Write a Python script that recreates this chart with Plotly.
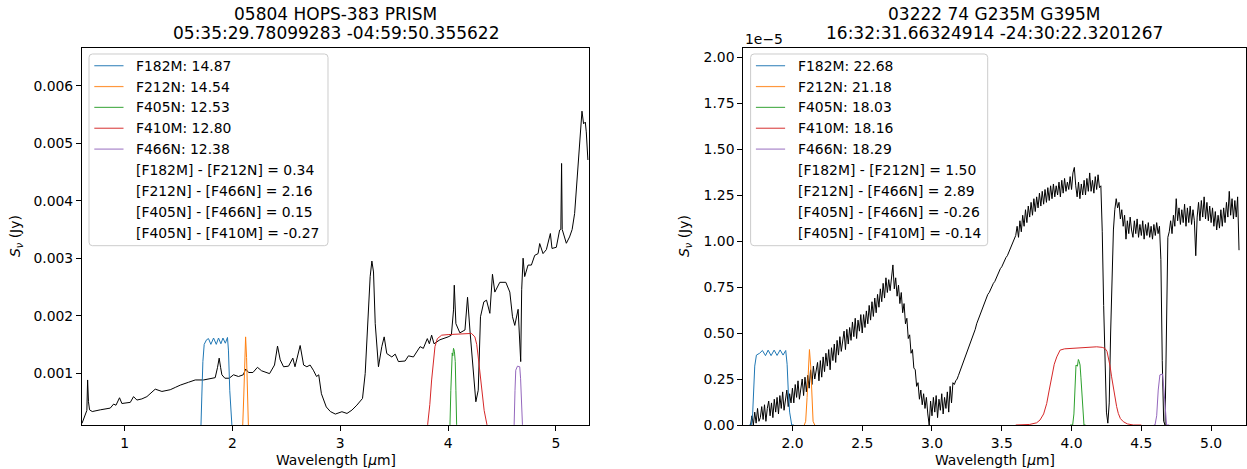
import numpy as np
import plotly.graph_objects as go

# ---------------- data ----------------
# Left panel: 05804 HOPS-383 PRISM spectrum (wavelength um, flux Jy)
left_wave = [0.605, 0.636, 0.650, 0.657, 0.665, 0.675, 0.70, 0.775, 0.82, 0.867, 0.898, 0.92, 0.953, 0.975,
             1.053, 1.083, 1.114, 1.16, 1.207, 1.25, 1.284, 1.346, 1.423, 1.47, 1.516, 1.593, 1.655, 1.732,
             1.794, 1.84, 1.862, 1.877, 1.89, 1.902, 1.93, 1.97, 2.01, 2.056, 2.10, 2.123, 2.15, 2.19, 2.232,
             2.27, 2.344, 2.39, 2.418, 2.443, 2.474, 2.52, 2.56, 2.58, 2.628, 2.66, 2.69, 2.72, 2.75, 2.78,
             2.80, 2.825, 2.87, 2.908, 2.954, 2.98, 3.015, 3.062, 3.108, 3.154, 3.206, 3.231, 3.253, 3.277,
             3.293, 3.308, 3.324, 3.354, 3.385, 3.407, 3.431, 3.478, 3.509, 3.539, 3.601, 3.632, 3.678, 3.74,
             3.77, 3.807, 3.826, 3.847, 3.869, 3.924, 4.0, 4.03, 4.05, 4.057, 4.072, 4.109, 4.156, 4.18, 4.202,
             4.227, 4.257, 4.279, 4.30, 4.331, 4.356, 4.387, 4.411, 4.433, 4.479, 4.535, 4.572, 4.597, 4.618,
             4.649, 4.664, 4.673, 4.682, 4.695, 4.71, 4.741, 4.772, 4.803, 4.834, 4.849, 4.88, 4.911, 4.948,
             4.963, 5.003, 5.034, 5.045, 5.052, 5.058, 5.065, 5.096, 5.126, 5.15, 5.173, 5.204, 5.225, 5.241,
             5.256, 5.272, 5.281, 5.296]
left_flux = [0.000124, 0.00027, 0.00035, 0.00088, 0.0005, 0.00036, 0.00033, 0.00036, 0.00037, 0.00039, 0.00046,
             0.00044, 0.00057, 0.00047, 0.00049, 0.00059, 0.00053, 0.00055, 0.00059, 0.00066, 0.00072, 0.00068,
             0.00071, 0.00075, 0.00079, 0.00084, 0.00088, 0.00088, 0.00091, 0.00092, 0.0011, 0.00126, 0.0011,
             0.00097, 0.00091, 0.00091, 0.00097, 0.00094, 0.00097, 0.00107, 0.00101, 0.00101, 0.0011, 0.00104,
             0.00099, 0.00114, 0.00147, 0.00123, 0.00111, 0.00112, 0.00126, 0.00111, 0.00148, 0.00114, 0.00111,
             0.00114, 0.00105, 0.00094, 0.00097, 0.00064, 0.00041, 0.00033, 0.000286, 0.0003, 0.000327,
             0.000297, 0.000355, 0.000442, 0.000558, 0.000992, 0.00186, 0.00268, 0.00295, 0.00276, 0.00186,
             0.00111, 0.00146, 0.00163, 0.00134, 0.00128, 0.00133, 0.0012, 0.00121, 0.0013, 0.00128, 0.00146,
             0.00143, 0.0016, 0.00151, 0.00166, 0.00151, 0.00158, 0.00163, 0.00166, 0.0021, 0.00253, 0.00186,
             0.0017, 0.00175, 0.00232, 0.00175, 0.00111, 0.0005, 0.0007, 0.00198, 0.00224, 0.00227, 0.00204,
             0.00272, 0.00241, 0.00258, 0.00258, 0.00241, 0.00198, 0.00183, 0.00211, 0.00158, 0.0012, 0.00245,
             0.003, 0.00268, 0.00288, 0.00288, 0.00305, 0.00308, 0.003255, 0.00308, 0.00315, 0.00343, 0.00317,
             0.00319, 0.00349, 0.0035, 0.00465, 0.0035, 0.00346, 0.00326, 0.00337, 0.0035, 0.00378, 0.00461,
             0.00517, 0.00556, 0.00534, 0.00537, 0.0052, 0.00471]

# Right panel: 03222 74 G235M G395M spectrum, flux in units of 1e-5 Jy, sampled every 0.01 um from 1.70
right_start = 1.70
right_step = 0.01
right_flux = [
    0.00, 0.05, 0.00, 0.07, 0.01, 0.09, 0.02, 0.04, 0.10, 0.03,
    0.11, 0.02, 0.09, 0.13, 0.05, 0.12, 0.04, 0.14, 0.07, 0.15,
    0.06, 0.16, 0.09, 0.18, 0.08, 0.15, 0.19, 0.10, 0.17, 0.12,
    0.20, 0.12, 0.22, 0.15, 0.24, 0.14, 0.21, 0.25, 0.16, 0.26,
    0.18, 0.27, 0.20, 0.30, 0.22, 0.32, 0.25, 0.29, 0.34, 0.24,
    0.35, 0.26, 0.37, 0.29, 0.39, 0.32, 0.41, 0.30, 0.42, 0.35,
    0.44, 0.34, 0.46, 0.38, 0.48, 0.40, 0.47, 0.51, 0.41, 0.52,
    0.44, 0.53, 0.46, 0.56, 0.48, 0.58, 0.47, 0.57, 0.51, 0.60,
    0.50, 0.60, 0.53, 0.62, 0.55, 0.65, 0.57, 0.67, 0.59, 0.69,
    0.61, 0.71, 0.64, 0.74, 0.67, 0.77, 0.69, 0.80, 0.72, 0.79,
    0.73, 0.82, 0.87, 0.74, 0.80, 0.70, 0.76, 0.66, 0.72, 0.61,
    0.66, 0.55, 0.58, 0.47, 0.49, 0.39, 0.41, 0.31, 0.30, 0.21,
    0.23, 0.14, 0.19, 0.11, 0.17, 0.09, 0.15, 0.06, 0.00, 0.13,
    0.05, 0.15, 0.07, 0.16, 0.04, 0.14, 0.08, 0.17, 0.06, 0.15,
    0.09, 0.18, 0.07, 0.21, 0.12, 0.23, 0.22, 0.24, 0.25, 0.27,
    0.29, 0.31, 0.33, 0.35, 0.37, 0.39, 0.41, 0.43, 0.45, 0.48,
    0.50, 0.52, 0.55, 0.57, 0.59, 0.61, 0.63, 0.66, 0.68, 0.70,
    0.71, 0.72, 0.74, 0.75, 0.77, 0.78, 0.80, 0.82, 0.83, 0.85,
    0.86, 0.88, 0.89, 0.91, 0.92, 0.94, 0.95, 0.98, 0.99, 1.02,
    1.03, 1.08, 1.02, 1.11, 1.05, 1.14, 1.08, 1.17, 1.10, 1.19,
    1.13, 1.21, 1.14, 1.23, 1.16, 1.24, 1.18, 1.26, 1.19, 1.27,
    1.20, 1.28, 1.21, 1.29, 1.22, 1.30, 1.23, 1.31, 1.24, 1.30,
    1.25, 1.32, 1.24, 1.33, 1.26, 1.34, 1.27, 1.32, 1.28, 1.35,
    1.28, 1.37, 1.40, 1.30, 1.24, 1.32, 1.23, 1.31, 1.25, 1.33,
    1.25, 1.34, 1.27, 1.37, 1.27, 1.33, 1.26, 1.35, 1.28, 1.36,
    1.29, 1.30, 1.05, 0.65, 0.30, 0.07, 0.01, 0.12, 0.50, 0.85,
    1.06, 1.17, 1.23, 1.18, 1.21, 1.12, 1.17, 1.08, 1.14, 1.01,
    1.11, 1.04, 1.13, 1.06, 1.02, 1.11, 1.04, 1.12, 1.02, 1.09,
    1.03, 1.11, 1.01, 1.09, 1.03, 1.10, 1.02, 1.08, 1.01, 1.09,
    1.03, 1.10, 1.04, 1.08, 0.90, 0.35, 0.02, 0.00, 0.60, 1.02,
    1.05, 1.11, 1.04, 1.14, 1.08, 1.23, 1.11, 1.18, 1.09, 1.17,
    1.10, 1.20, 1.08, 1.18, 1.10, 1.19, 1.09, 1.17, 1.11, 0.92,
    1.13, 1.21, 1.11, 1.22, 1.13, 1.24, 1.12, 1.21, 1.11, 1.19,
    1.10, 1.18, 1.08, 1.16, 1.06, 1.14, 1.07, 1.17, 1.08, 1.18,
    1.10, 1.21, 1.13, 1.27, 1.14, 1.23, 1.12, 1.22, 1.13, 1.24,
    0.95]

# Filter transmission curves (scaled), left panel in Jy
filt_names = ["F182M", "F212N", "F405N", "F410M", "F466N"]
filt_colors = ["#1f77b4", "#ff7f0e", "#2ca02c", "#d62728", "#9467bd"]

L_F182M_w = [1.69, 1.707, 1.716, 1.726, 1.738, 1.748, 1.76, 1.778, 1.80, 1.825, 1.85, 1.871, 1.893, 1.912,
             1.934, 1.954, 1.963, 1.975, 1.987, 1.998, 2.01]
L_F182M_f = [0.0, 0.0, 0.0006, 0.0012, 0.0015, 0.00155, 0.00158, 0.0016, 0.0015, 0.00161, 0.0015, 0.00161,
             0.00151, 0.00161, 0.00152, 0.00162, 0.0014, 0.0007, 0.0002, 0.0, 0.0]
L_F212N_w = [2.085, 2.095, 2.105, 2.113, 2.122, 2.131, 2.139, 2.148, 2.16]
L_F212N_f = [0.0, 0.00008, 0.0006, 0.00127, 0.00163, 0.00127, 0.0006, 0.00008, 0.0]
L_F405N_w = [3.99, 4.017, 4.025, 4.032, 4.038, 4.043, 4.05, 4.058, 4.066, 4.072, 4.079, 4.10]
L_F405N_f = [0.0, 0.0001, 0.0007, 0.00128, 0.00135, 0.0013, 0.00143, 0.00138, 0.0012, 0.0007, 0.0001, 0.0]
L_F410M_w = [3.70, 3.78, 3.81, 3.83, 3.847, 3.865, 3.878, 3.90, 3.94, 4.0, 4.14, 4.217, 4.248, 4.265, 4.279,
             4.295, 4.31, 4.334, 4.36, 4.40, 4.45]
L_F410M_f = [0.0, 0.00003, 0.0001, 0.00045, 0.00088, 0.00125, 0.00146, 0.0016, 0.00166, 0.00167, 0.00169,
             0.00169, 0.00163, 0.0015, 0.00128, 0.001, 0.0007, 0.00035, 0.0001, 0.00002, 0.0]
L_F466N_w = [4.59, 4.612, 4.62, 4.627, 4.643, 4.664, 4.672, 4.68, 4.689, 4.70]
L_F466N_f = [0.0, 0.0001, 0.0007, 0.00105, 0.00112, 0.00111, 0.0009, 0.0004, 0.0001, 0.0]

# Right panel filters, units of 1e-5 Jy
R_F182M_w = [1.69, 1.705, 1.715, 1.722, 1.73, 1.742, 1.765, 1.785, 1.807, 1.826, 1.847, 1.869, 1.890, 1.912,
             1.933, 1.952, 1.962, 1.97, 1.98, 1.995, 2.01]
R_F182M_f = [0.0, 0.0, 0.06, 0.2, 0.32, 0.38, 0.39, 0.405, 0.377, 0.407, 0.377, 0.407, 0.378, 0.408, 0.38,
             0.405, 0.33, 0.19, 0.07, 0.0, 0.0]
R_F212N_w = [2.085, 2.095, 2.105, 2.113, 2.122, 2.131, 2.139, 2.148, 2.16]
R_F212N_f = [0.0, 0.02, 0.15, 0.32, 0.41, 0.32, 0.15, 0.02, 0.0]
R_F405N_w = [3.99, 4.008, 4.017, 4.025, 4.032, 4.042, 4.049, 4.055, 4.061, 4.067, 4.073, 4.08, 4.089, 4.10]
R_F405N_f = [0.0, 0.0, 0.06, 0.226, 0.326, 0.32, 0.356, 0.345, 0.326, 0.26, 0.19, 0.06, 0.0, 0.0]
R_F410M_w = [3.60, 3.70, 3.75, 3.774, 3.80, 3.822, 3.84, 3.858, 3.876, 3.894, 3.918, 3.95, 3.989, 4.05, 4.12,
             4.18, 4.22, 4.24, 4.254, 4.264, 4.276, 4.287, 4.30, 4.311, 4.323, 4.335, 4.35, 4.371, 4.40, 4.442, 4.5]
R_F410M_f = [0.0, 0.003, 0.012, 0.027, 0.06, 0.117, 0.19, 0.262, 0.33, 0.37, 0.407, 0.414, 0.416, 0.419, 0.422,
             0.425, 0.422, 0.416, 0.40, 0.37, 0.32, 0.262, 0.20, 0.154, 0.10, 0.063, 0.035, 0.018, 0.006, 0.0, 0.0]
R_F466N_w = [4.59, 4.598, 4.61, 4.621, 4.633, 4.652, 4.662, 4.672, 4.681, 4.70]
R_F466N_f = [0.0, 0.0, 0.05, 0.19, 0.272, 0.277, 0.19, 0.06, 0.0, 0.0]

left_title = ["05804 HOPS-383 PRISM", "05:35:29.78099283 -04:59:50.355622"]
right_title = ["03222 74 G235M G395M", "16:32:31.66324914 -24:30:22.3201267"]
left_legend = ["F182M: 14.87", "F212N: 14.54", "F405N: 12.53", "F410M: 12.80", "F466N: 12.38",
               "[F182M] - [F212N] = 0.34", "[F212N] - [F466N] = 2.16",
               "[F405N] - [F466N] = 0.15", "[F405N] - [F410M] = -0.27"]
right_legend = ["F182M: 22.68", "F212N: 21.18", "F405N: 18.03", "F410M: 18.16", "F466N: 18.29",
                "[F182M] - [F212N] = 1.50", "[F212N] - [F466N] = 2.89",
                "[F405N] - [F466N] = -0.26", "[F405N] - [F410M] = -0.14"]

left_yticks = [0.001, 0.002, 0.003, 0.004, 0.005, 0.006]
right_yticks = [0.0, 0.25, 0.5, 0.75, 1.0, 1.25, 1.5, 1.75, 2.0]
left_xticks = [1, 2, 3, 4, 5]
right_xticks = [2.0, 2.5, 3.0, 3.5, 4.0, 4.5, 5.0]

# ---------------- layout geometry (pixels) ----------------
W, H = 1247, 469
ML, MR, MT, MB = 82, 1, 48, 44
PW = W - ML - MR
PH = H - MT - MB
FONT = "DejaVu Sans"


def px(x):
    return (x - ML) / PW


def py(y):
    return (H - MB - y) / PH


left_x0, left_x1 = 82.0, 589.3
right_x0, right_x1 = 743.3, 1246.0

fig = go.Figure()

right_wave = list(np.round(right_start + right_step * np.arange(len(right_flux)), 2))

fig.add_trace(go.Scatter(x=left_wave, y=left_flux, mode="lines", line=dict(color="black", width=1),
                         xaxis="x", yaxis="y", showlegend=False, hoverinfo="skip"))
fig.add_trace(go.Scatter(x=right_wave, y=right_flux, mode="lines", line=dict(color="black", width=1),
                         xaxis="x2", yaxis="y2", showlegend=False, hoverinfo="skip"))

left_filters = [(L_F182M_w, L_F182M_f), (L_F212N_w, L_F212N_f), (L_F405N_w, L_F405N_f),
                (L_F410M_w, L_F410M_f), (L_F466N_w, L_F466N_f)]
right_filters = [(R_F182M_w, R_F182M_f), (R_F212N_w, R_F212N_f), (R_F405N_w, R_F405N_f),
                 (R_F410M_w, R_F410M_f), (R_F466N_w, R_F466N_f)]
for (w, f), c in zip(left_filters, filt_colors):
    fig.add_trace(go.Scatter(x=w, y=f, mode="lines", line=dict(color=c, width=1),
                             xaxis="x", yaxis="y", showlegend=False, hoverinfo="skip"))
for (w, f), c in zip(right_filters, filt_colors):
    fig.add_trace(go.Scatter(x=w, y=f, mode="lines", line=dict(color=c, width=1),
                             xaxis="x2", yaxis="y2", showlegend=False, hoverinfo="skip"))

axis_common = dict(showline=True, linecolor="black", linewidth=1, mirror=True, ticks="outside",
                   ticklen=5, tickwidth=1, tickcolor="black", showgrid=False, zeroline=False,
                   tickfont=dict(family=FONT, size=13.9, color="black"))

fig.update_layout(
    width=W, height=H,
    margin=dict(l=ML, r=MR, t=MT, b=MB),
    paper_bgcolor="white", plot_bgcolor="white",
    showlegend=False,
    xaxis=dict(domain=[px(left_x0), px(left_x1)], range=[0.605, 5.309], tickvals=left_xticks,
               ticktext=[str(v) for v in left_xticks], anchor="y", **axis_common),
    yaxis=dict(domain=[0, 1], range=[0.0000957, 0.00666], tickvals=left_yticks,
               ticktext=["%.3f" % v for v in left_yticks], anchor="x", **axis_common),
    xaxis2=dict(domain=[px(right_x0), px(right_x1)], range=[1.648, 5.25], tickvals=right_xticks,
                ticktext=["%.1f" % v for v in right_xticks], anchor="y2", **axis_common),
    yaxis2=dict(domain=[0, 1], range=[0.0, 2.049], tickvals=right_yticks,
                ticktext=["%.2f" % v for v in right_yticks], anchor="x2", **axis_common),
)

annotations = []
shapes = []


def text(x, y, s, size=13.9, xanchor="center", yanchor="middle", angle=0):
    annotations.append(dict(x=px(x), y=py(y), xref="paper", yref="paper", text=s, showarrow=False,
                            xanchor=xanchor, yanchor=yanchor, textangle=angle,
                            font=dict(family=FONT, size=size, color="black")))


# titles
for (x0, x1), tl in (((left_x0, left_x1), left_title), ((right_x0, right_x1), right_title)):
    cx = (x0 + x1) / 2
    text(cx, 14, tl[0], size=17)
    text(cx, 33.5, tl[1], size=17)

# axis labels
text((left_x0 + left_x1) / 2, 460, "Wavelength [<i>μ</i>m]")
text((right_x0 + right_x1) / 2, 460, "Wavelength [<i>μ</i>m]")
text(16, 236, "<i>S</i><sub><i>ν</i></sub> (Jy)", angle=-90)
text(685, 236, "<i>S</i><sub><i>ν</i></sub> (Jy)", angle=-90)
text(743, 39, "1e\u22125", xanchor="left")


def rrect(x0, y0, x1, y1, r):
    pts = [("M", x0 + r, y0), ("L", x1 - r, y0), ("Q", x1, y0, x1, y0 + r), ("L", x1, y1 - r),
           ("Q", x1, y1, x1 - r, y1), ("L", x0 + r, y1), ("Q", x0, y1, x0, y1 - r), ("L", x0, y0 + r),
           ("Q", x0, y0, x0 + r, y0)]
    s = ""
    for p in pts:
        if p[0] == "Q":
            s += "Q%.6f,%.6f %.6f,%.6f " % (px(p[1]), py(p[2]), px(p[3]), py(p[4]))
        else:
            s += "%s%.6f,%.6f " % (p[0], px(p[1]), py(p[2]))
    return s + "Z"


row0, dy = 65.7, 20.85
for box_x0, box_x1, labels in ((89.0, 328.0, left_legend), (750.6, 987.7, right_legend)):
    shapes.append(dict(type="path", path=rrect(box_x0, 54.0, box_x1, 245.7, 3.5), xref="paper", yref="paper",
                       line=dict(color="#cccccc", width=1), fillcolor="rgba(255,255,255,0.8)", layer="above"))
    for i, lab in enumerate(labels):
        yy = row0 + i * dy
        if i < len(filt_colors):
            shapes.append(dict(type="line", x0=px(box_x0 + 5.3), x1=px(box_x0 + 34.5), y0=py(yy), y1=py(yy),
                               xref="paper", yref="paper", line=dict(color=filt_colors[i], width=1.2),
                               opacity=0.8, layer="above"))
        text(box_x0 + 45.3, yy, lab, xanchor="left")

fig.update_layout(annotations=annotations, shapes=shapes)
fig.write_html("out.html")
